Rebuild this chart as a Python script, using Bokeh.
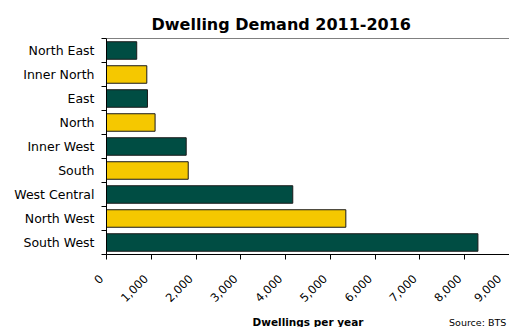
import math
from bokeh.plotting import figure
from bokeh.layouts import column
from bokeh.models import (ColumnDataSource, Range1d, FixedTicker, LinearAxis)
from bokeh.core.properties import value
from bokeh.embed import file_html
from bokeh.resources import INLINE

# ---- data ----
regions = ["North East", "Inner North", "East", "North", "Inner West",
           "South", "West Central", "North West", "South West"]
dwellings = [675, 900, 915, 1085, 1780, 1825, 4160, 5345, 8295]
bar_colors = ["#004D43", "#F5C800", "#004D43", "#F5C800", "#004D43",
              "#F5C800", "#004D43", "#F5C800", "#004D43"]
x_ticks = [0, 1000, 2000, 3000, 4000, 5000, 6000, 7000, 8000, 9000]
title_text = "Dwelling Demand 2011-2016"
x_label = "Dwellings per year"
source_note = "Source: BTS"

FONT = "DejaVu Sans"
W, H_MAIN, H_FOOT = 509, 315, 12

pos = list(range(len(regions)))
src = ColumnDataSource(dict(y=pos, x=dwellings, c=bar_colors, name=regions))

xr = Range1d(0, x_ticks[-1])
p = figure(width=W, height=H_MAIN, output_backend="svg", toolbar_location=None,
           x_range=xr, y_range=Range1d(len(regions) - 0.5, -0.5),
           min_border_left=106, min_border_right=0, min_border_top=38,
           min_border_bottom=61, x_axis_type=None, y_axis_type=None)
p.outline_line_color = None
p.background_fill_color = "white"
p.border_fill_color = "white"
p.xgrid.visible = False
p.ygrid.visible = False

p.hbar(y="y", right="x", left=0, height=0.73, source=src,
       fill_color="c", line_color="#1a1a1a", line_width=1)

# title
p.title.text = title_text
p.title.text_font = FONT
p.title.text_font_size = "16px"
p.title.text_font_style = "bold"
p.title.text_color = "black"
p.title.align = "left"
p.title.offset = 45

# bottom axis
xa = LinearAxis(ticker=FixedTicker(ticks=x_ticks))
xa.major_label_overrides = {t: f"{t:,}\u00a0\u00a0" for t in x_ticks}
xa.major_label_orientation = math.pi / 4
xa.major_label_text_font = FONT
xa.major_label_text_font_size = "11.5px"
xa.major_label_text_color = "black"
xa.major_tick_in = 0
xa.major_tick_out = 5
xa.minor_tick_line_color = None
xa.axis_line_color = "black"
xa.major_tick_line_color = "black"
xa.major_label_standoff = 12
p.add_layout(xa, "below")

# left axis: labels at centres, ticks at boundaries
ya = LinearAxis(ticker=FixedTicker(ticks=pos,
                                   minor_ticks=[i - 0.5 for i in range(len(regions) + 1)]))
ya.major_label_overrides = {i: r for i, r in zip(pos, regions)}
ya.major_tick_line_color = None
ya.minor_tick_in = 0
ya.minor_tick_out = 5
ya.minor_tick_line_color = "black"
ya.axis_line_color = "black"
ya.major_label_text_font = FONT
ya.major_label_text_font_size = "12.5px"
ya.major_label_text_color = "black"
ya.major_label_standoff = 6
p.add_layout(ya, "left")

# top frame line
ta = LinearAxis(ticker=FixedTicker(ticks=[]))
ta.axis_line_color = "#808080"
ta.major_tick_line_color = None
ta.minor_tick_line_color = None
ta.major_label_text_font_size = "0px"
p.add_layout(ta, "above")

# footer strip (frame aligned with the main plot): axis title and source note
f = figure(width=W, height=H_FOOT, output_backend="svg", toolbar_location=None,
           x_range=xr, y_range=Range1d(0, H_FOOT),
           min_border=0, x_axis_type=None, y_axis_type=None)
f.outline_line_color = None
f.xgrid.visible = False
f.ygrid.visible = False
mid = (xr.start + xr.end) / 2
f.text(x=[mid], y=[6], text=[x_label], text_align="center",
       text_baseline="middle", text_font=value(FONT), text_font_size="10.5px",
       text_font_style="bold", text_color="black")
f.text(x=[xr.end * 0.85], y=[5], text=[source_note], text_align="left",
       text_baseline="middle", text_font=value(FONT), text_font_size="9.5px",
       text_color="black")

layout = column(p, f, spacing=0)
open("out.html", "w").write(file_html(layout, INLINE))
